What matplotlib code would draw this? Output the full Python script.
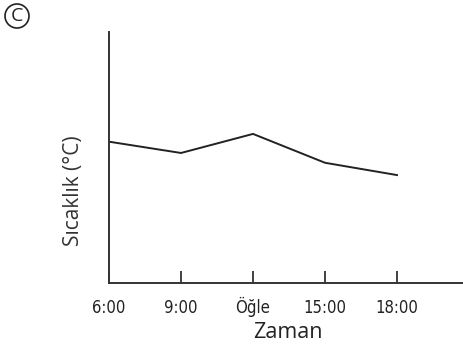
import matplotlib
matplotlib.use("Agg")
import matplotlib.pyplot as plt
from matplotlib.patches import Circle

times = ["6:00", "9:00", "Öğle", "15:00", "18:00"]
temps = [56.3, 51.8, 59.4, 47.9, 43.0]

W, H = 463, 349
fig = plt.figure(figsize=(W / 100, H / 100), dpi=100)
left, right, bottom, top = 109, 463, 283, 32
ax = fig.add_axes([left / W, 1 - bottom / H, (right - left) / W, (bottom - top) / H])

x = list(range(len(times)))
ax.plot(x, temps, color="#222222", lw=1.4, solid_joinstyle="miter")
ax.set_xlim(0, (right - left) / 72.0)
ax.set_ylim(0, 100)

for s in ["top", "right"]:
    ax.spines[s].set_visible(False)
for s in ["left", "bottom"]:
    ax.spines[s].set_linewidth(1.4)
    ax.spines[s].set_color("#333333")

ax.set_xticks(x)
ax.set_xticklabels(times, family="DejaVu Sans", fontstretch="condensed", fontsize=12, color="#222222")
ax.tick_params(axis="x", direction="in", length=9, width=1.3, color="#333333", pad=21.5)
for lab in ax.get_xticklabels():
    lab.set_verticalalignment("baseline")
ax.set_yticks([])

fig.text(288 / W, 1 - 332 / H, "Zaman", ha="center", va="center",
         family=["Open Sans", "DejaVu Sans"], fontsize=15.5, color="#222222")
fig.text(74 / W, 1 - 191 / H, "Sıcaklık (°C)", ha="center", va="center", rotation=90,
         family=["Open Sans", "DejaVu Sans"], fontsize=15, color="#333333")

circ = Circle((17 / 100, (H - 16) / 100), 0.12, transform=fig.dpi_scale_trans,
              fill=False, lw=1.2, edgecolor="#222222")
fig.patches.append(circ)
fig.text(17 / W, 1 - 16 / H, "C", ha="center", va="center",
         family=["Open Sans", "DejaVu Sans"], fontsize=14, color="#222222")

fig.savefig("out.png", dpi=100)
